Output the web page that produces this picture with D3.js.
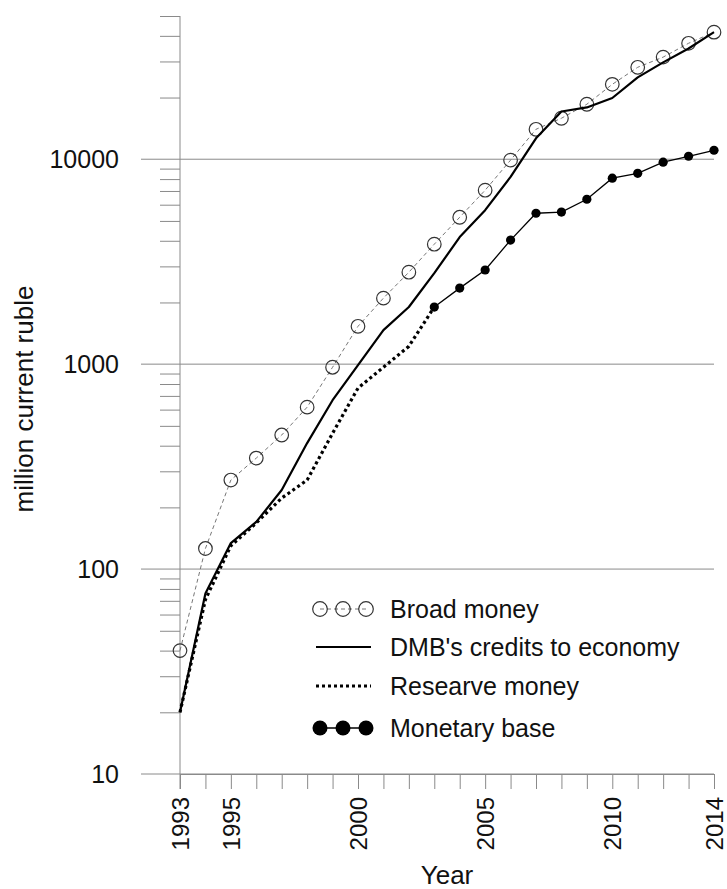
<!DOCTYPE html>
<html>
<head>
<meta charset="utf-8">
<script src="https://cdn.jsdelivr.net/npm/d3@7"></script>
<style>
  html, body { margin: 0; padding: 0; background: #fff; }
  svg { display: block; font-family: "Liberation Sans", Arial, sans-serif; }
</style>
</head>
<body>
<svg id="chart" width="727" height="889"></svg>
<script>
// Money aggregates, Russia, million current rubles
const years = d3.range(1993, 2015);
const broadMoney = [40, 126, 272, 348, 451, 617, 966, 1530, 2100, 2810, 3850, 5210,
                    7060, 9900, 14000, 15850, 18550, 23200, 28100, 31500, 36800, 41700];
const dmbCredits = [20, 76, 134, 170, 243, 412, 667, 990, 1466, 1900, 2780, 4170,
                    5640, 8200, 12650, 17100, 17900, 19900, 25100, 29700, 34700, 41700];
const reserveYears = d3.range(1993, 2004);
const reserveMoney = [20, 71, 130, 168, 222, 272, 460, 764, 966, 1222, 1900];
const baseYears = d3.range(2003, 2015);
const monetaryBase = [1900, 2350, 2880, 4030, 5450, 5520, 6380, 8080, 8540, 9670, 10340, 11060];

const yMajorTicks = [10, 100, 1000, 10000];
const xLabelYears = [1993, 1995, 2000, 2005, 2010, 2014];
const legendLabels = ["Broad money", "DMB's credits to economy", "Researve money", "Monetary base"];

const svg = d3.select("#chart");
const plotLeft = 180, plotRight = 714, plotTop = 16, plotBottom = 774;
const axisGray = "#8a8a8a";

const x = d3.scaleLinear().domain([1993, 2014]).range([plotLeft, plotRight]);
const y = d3.scaleLog().domain([10, 50000]).range([plotBottom, plotTop]);

// minor ticks: 2..9 within every decade up to 50000
const minorTicks = [];
[10, 100, 1000, 10000].forEach(d => {
  for (let k = 2; k <= 9; k++) if (d * k <= 50000) minorTicks.push(d * k);
});

// horizontal gridlines at each decade
svg.append("g")
  .selectAll("line")
  .data(yMajorTicks)
  .join("line")
  .attr("x1", 141).attr("x2", plotRight)
  .attr("y1", d => y(d)).attr("y2", d => y(d))
  .attr("stroke", axisGray).attr("stroke-width", 1);

// y axis: minor ticks
const yMinor = svg.append("g")
  .attr("transform", `translate(${plotLeft},0)`)
  .call(d3.axisLeft(y).tickValues(minorTicks).tickSize(20).tickFormat(""));
yMinor.select(".domain").remove();
yMinor.selectAll(".tick line").attr("stroke", axisGray);

// y axis: decade labels
const yMajor = svg.append("g")
  .attr("transform", `translate(${plotLeft},0)`)
  .call(d3.axisLeft(y).tickValues(yMajorTicks).tickSize(0).tickPadding(61)
        .tickFormat(d3.format("d")));
yMajor.select(".domain").remove();
yMajor.selectAll(".tick text")
  .attr("font-size", 25).attr("fill", "#111")
  .attr("font-family", "Liberation Sans, Arial, sans-serif");

// y axis line
svg.append("line")
  .attr("x1", plotLeft).attr("x2", plotLeft).attr("y1", plotTop).attr("y2", plotBottom + 15)
  .attr("stroke", axisGray).attr("stroke-width", 1);

// x axis: a tick for every year, labels on selected years
const xAxis = svg.append("g")
  .attr("transform", `translate(0,${plotBottom})`)
  .call(d3.axisBottom(x).tickValues(years).tickSize(15)
        .tickFormat(d => xLabelYears.includes(d) ? String(d) : ""));
xAxis.select(".domain").attr("stroke", axisGray).attr("d", `M${plotLeft},0.5H${plotRight}`);
xAxis.selectAll(".tick line").attr("stroke", axisGray);
xAxis.selectAll(".tick text")
  .attr("font-size", 24).attr("fill", "#111")
  .attr("font-family", "Liberation Sans, Arial, sans-serif")
  .attr("transform", "rotate(-90)")
  .attr("text-anchor", "end")
  .attr("x", -23).attr("y", 0).attr("dy", "0.36em");

// axis titles
svg.append("text")
  .attr("x", x(2003.5)).attr("y", 884)
  .attr("text-anchor", "middle").attr("font-size", 26).attr("fill", "#111")
  .text("Year");
svg.append("text")
  .attr("transform", `translate(33,${399}) rotate(-90)`)
  .attr("text-anchor", "middle").attr("font-size", 26).attr("fill", "#111")
  .text("million current ruble");

const line = d3.line().x(d => x(d[0])).y(d => y(d[1]));
const zip = (xs, vs) => xs.map((yr, i) => [yr, vs[i]]);

const plot = svg.append("g");

// broad money: dashed gray line with open circles
const broad = zip(years, broadMoney);
plot.append("path").datum(broad).attr("d", line)
  .attr("fill", "none").attr("stroke", "#777").attr("stroke-width", 1)
  .attr("stroke-dasharray", "4,3");
plot.append("g").selectAll("circle").data(broad).join("circle")
  .attr("cx", d => x(d[0])).attr("cy", d => y(d[1])).attr("r", 6.8)
  .attr("fill", "none").attr("stroke", "#333").attr("stroke-width", 1.2);

// DMB's credits to economy: solid line
plot.append("path").datum(zip(years, dmbCredits)).attr("d", line)
  .attr("fill", "none").attr("stroke", "#000").attr("stroke-width", 2.2)
  .attr("stroke-linejoin", "round");

// reserve money: dotted line
plot.append("path").datum(zip(reserveYears, reserveMoney)).attr("d", line)
  .attr("fill", "none").attr("stroke", "#000").attr("stroke-width", 3.2)
  .attr("stroke-dasharray", "3,3");

// monetary base: thin line with filled dots
const base = zip(baseYears, monetaryBase);
plot.append("path").datum(base).attr("d", line)
  .attr("fill", "none").attr("stroke", "#000").attr("stroke-width", 1.3);
plot.append("g").selectAll("circle").data(base).join("circle")
  .attr("cx", d => x(d[0])).attr("cy", d => y(d[1])).attr("r", 4.6)
  .attr("fill", "#000");

// legend
const legend = svg.append("g");
const rowsY = [609, 647, 686, 728];
const symX = [320, 343, 366];
const textX = 390;

// row 1: open circles on a dashed line
legend.append("line").attr("x1", symX[0]).attr("x2", symX[2]).attr("y1", rowsY[0]).attr("y2", rowsY[0])
  .attr("stroke", "#777").attr("stroke-width", 1).attr("stroke-dasharray", "4,3");
legend.append("g").selectAll("circle").data(symX).join("circle")
  .attr("cx", d => d).attr("cy", rowsY[0]).attr("r", 7.3)
  .attr("fill", "none").attr("stroke", "#333").attr("stroke-width", 1.2);
// row 2: solid
legend.append("line").attr("x1", 316).attr("x2", 371).attr("y1", rowsY[1]).attr("y2", rowsY[1])
  .attr("stroke", "#000").attr("stroke-width", 2.2);
// row 3: dotted
legend.append("line").attr("x1", 316).attr("x2", 371).attr("y1", rowsY[2]).attr("y2", rowsY[2])
  .attr("stroke", "#000").attr("stroke-width", 3.2).attr("stroke-dasharray", "3,3");
// row 4: filled dots on a line
legend.append("line").attr("x1", symX[0]).attr("x2", symX[2]).attr("y1", rowsY[3]).attr("y2", rowsY[3])
  .attr("stroke", "#000").attr("stroke-width", 1.3);
legend.append("g").selectAll("circle").data(symX).join("circle")
  .attr("cx", d => d).attr("cy", rowsY[3]).attr("r", 7.5).attr("fill", "#000");

legend.append("g").selectAll("text").data(legendLabels).join("text")
  .attr("x", textX).attr("y", (d, i) => rowsY[i]).attr("dy", "0.35em")
  .attr("font-size", 25).attr("fill", "#111")
  .text(d => d);
</script>
</body>
</html>
